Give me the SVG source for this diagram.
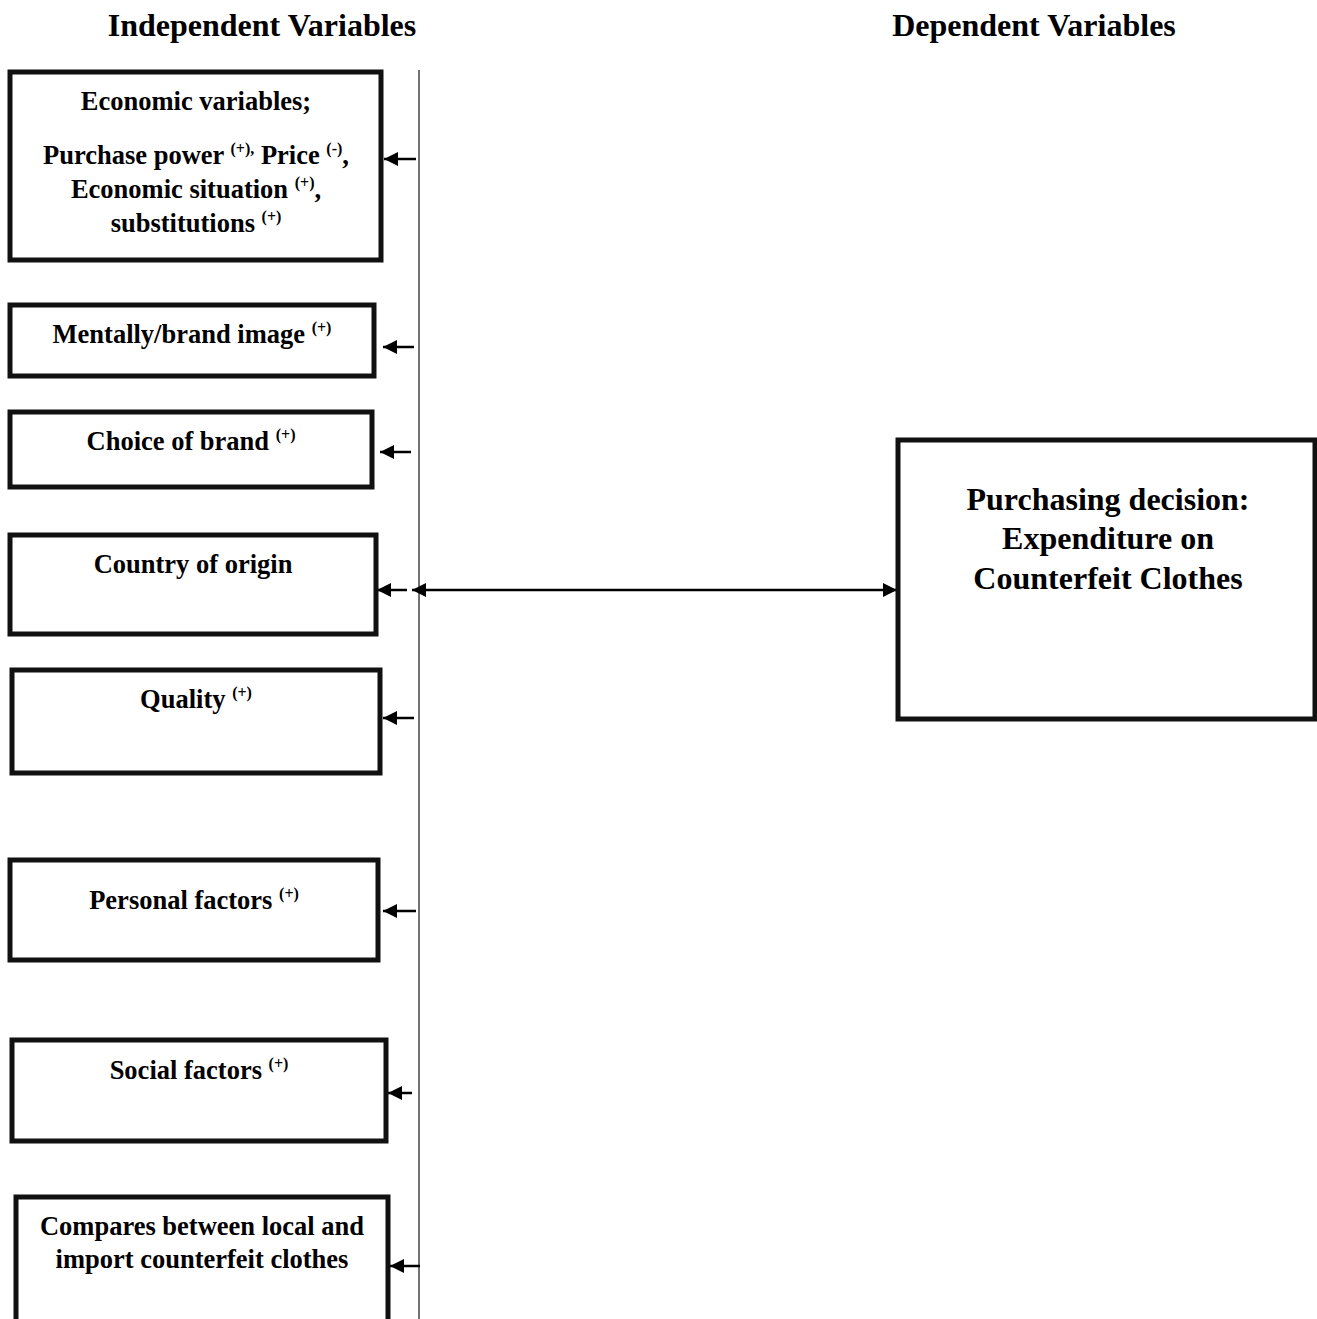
<svg xmlns="http://www.w3.org/2000/svg" width="1317" height="1319" viewBox="0 0 1317 1319">
<defs>
<marker id="ah" viewBox="0 0 14 14" refX="14" refY="7" markerWidth="14" markerHeight="14" markerUnits="userSpaceOnUse" orient="auto">
<path d="M0,0 L14,7 L0,14 Z" fill="#000"/>
</marker>
<marker id="ahs" viewBox="0 0 14 14" refX="14" refY="7" markerWidth="14" markerHeight="14" markerUnits="userSpaceOnUse" orient="auto-start-reverse">
<path d="M0,0 L14,7 L0,14 Z" fill="#000"/>
</marker>
</defs>
<style>
.box{fill:#fff;stroke:#111;stroke-width:5}
.t{font-family:"Liberation Serif","Times New Roman",serif;font-weight:bold;font-size:26.5px;fill:#000;text-anchor:middle}
.h{font-size:32px}
.big{font-size:32px}
.sup{font-size:16px}
.arr{stroke:#000;stroke-width:2.5;fill:none;marker-end:url(#ah)}
.vline{stroke:#444;stroke-width:1.5}
</style>
<rect width="1317" height="1319" fill="#fff"/>
<g id="headers">
<text class="t h" x="262" y="36">Independent Variables</text>
<text class="t h" x="1034" y="36">Dependent Variables</text>
</g>
<g id="connectors">
<line class="vline" x1="419" y1="70" x2="419" y2="1319"/>
<line class="arr" x1="416" y1="159" x2="384" y2="159"/>
<line class="arr" x1="414" y1="347" x2="383" y2="347"/>
<line class="arr" x1="411" y1="452" x2="380" y2="452"/>
<line class="arr" x1="407" y1="590" x2="377" y2="590"/>
<line stroke="#000" stroke-width="2.5" x1="412" y1="590" x2="897" y2="590" marker-start="url(#ahs)" marker-end="url(#ah)"/>
<line class="arr" x1="414" y1="718" x2="383" y2="718"/>
<line class="arr" x1="416" y1="911" x2="383" y2="911"/>
<line class="arr" x1="412" y1="1093" x2="388" y2="1093"/>
<line class="arr" x1="420" y1="1266" x2="390" y2="1266"/>
</g>
<g id="economic">
<rect class="box" x="10" y="72" width="371" height="188"/>
<text class="t" x="196" y="110">Economic variables;</text>
<text class="t" x="196" y="164">Purchase power <tspan class="sup" dy="-10">(+),</tspan><tspan dy="10"> Price </tspan><tspan class="sup" dy="-10">(-)</tspan><tspan dy="10">,</tspan></text>
<text class="t" x="196" y="198">Economic situation <tspan class="sup" dy="-10">(+)</tspan><tspan dy="10">,</tspan></text>
<text class="t" x="196" y="232">substitutions <tspan class="sup" dy="-10">(+)</tspan></text>
</g>
<g id="brandimage">
<rect class="box" x="10" y="305" width="364" height="71"/>
<text class="t" x="192" y="343">Mentally/brand image <tspan class="sup" dy="-10">(+)</tspan></text>
</g>
<g id="choice">
<rect class="box" x="10" y="412" width="362" height="75"/>
<text class="t" x="191" y="450">Choice of brand <tspan class="sup" dy="-10">(+)</tspan></text>
</g>
<g id="country">
<rect class="box" x="10" y="535" width="366" height="99"/>
<text class="t" x="193" y="573">Country of origin</text>
</g>
<g id="quality">
<rect class="box" x="12" y="670" width="368" height="103"/>
<text class="t" x="196" y="708">Quality <tspan class="sup" dy="-10">(+)</tspan></text>
</g>
<g id="personal">
<rect class="box" x="10" y="860" width="368" height="100"/>
<text class="t" x="194" y="909">Personal factors <tspan class="sup" dy="-10">(+)</tspan></text>
</g>
<g id="social">
<rect class="box" x="12" y="1040" width="374" height="101"/>
<text class="t" x="199" y="1079">Social factors <tspan class="sup" dy="-10">(+)</tspan></text>
</g>
<g id="compares">
<rect class="box" x="16" y="1197" width="372" height="130"/>
<text class="t" x="202" y="1235">Compares between local and</text>
<text class="t" x="202" y="1268">import counterfeit clothes</text>
</g>
<g id="decision">
<rect class="box" x="898" y="440" width="417" height="279"/>
<text class="t big" x="1108" y="510">Purchasing decision:</text>
<text class="t big" x="1108" y="549">Expenditure on</text>
<text class="t big" x="1108" y="589">Counterfeit Clothes</text>
</g>
</svg>
